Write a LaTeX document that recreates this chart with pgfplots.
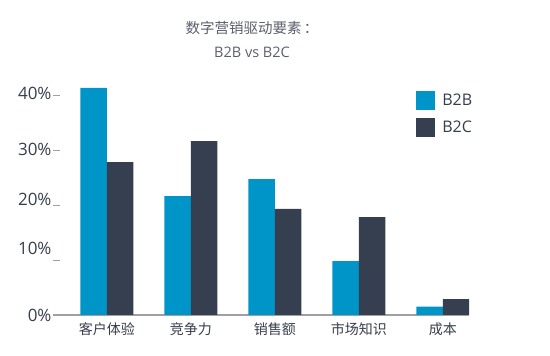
\documentclass[border=0pt]{standalone}
\usepackage{fontspec}
\setmainfont{Open Sans}
\newfontfamily\cjk{Noto Sans CJK SC}
\usepackage{pgfplots}
\pgfplotsset{compat=1.18}
\definecolor{btb}{RGB}{0,149,200}
\definecolor{btc}{RGB}{53,63,79}
\definecolor{txt}{RGB}{55,62,75}
\definecolor{ttl}{RGB}{90,95,108}
\definecolor{axg}{RGB}{160,160,160}
\begin{document}
\begin{tikzpicture}
\path[use as bounding box] (-53pt,-41pt) rectangle (497pt,315pt);
\begin{axis}[
  at={(0pt,0pt)}, anchor=south west,
  scale only axis, width=416pt, height=247.5pt,
  xmin=-0.64, xmax=4.31, ymin=0, ymax=45,
  ybar=0pt, bar width=0.315,
  separate axis lines,
  axis x line*=bottom, axis y line*=left,
  y axis line style={draw=none},
  x axis line style={draw=axg, line width=1.3pt},
  xtick={0,1,2,3,4},
  xticklabels={客户体验,竞争力,销售额,市场知识,成本},
  x tick label style={font=\cjk\fontsize{14}{16}\selectfont, text=txt, yshift=-4pt},
  major x tick style={draw=none},
  ytick={0,10,20,30,40},
  yticklabels={0\%,\raisebox{24pt}{10\%},\raisebox{12pt}{20\%},\raisebox{2pt}{30\%},\raisebox{3pt}{40\%}},
  y tick label style={font=\fontsize{17}{20}\selectfont, text=txt, xshift=2pt},
  /pgf/number format/assume math mode=true,
  tick align=inside, major tick length=7pt,
  major y tick style={draw=axg, line width=0.8pt},
  legend style={draw=none, fill=none, at={(0.873,0.905)}, anchor=north west,
    inner sep=0pt, row sep=8pt, font=\fontsize{16}{18}\selectfont, text=txt,
    nodes={inner sep=0pt}},
  legend cell align=left,
  legend image code/.code={\fill[#1] (0pt,-9.5pt) rectangle (19pt,9.5pt);},
  /tikz/every odd column/.append style={column sep=7pt},
]
\addplot[fill=btb, draw=none] coordinates {(0,41.3) (1,21.6) (2,24.7) (3,9.8) (4,1.5)};
\addplot[fill=btc, draw=none] coordinates {(0,27.8) (1,31.6) (2,19.3) (3,17.8) (4,2.9)};
\legend{B2B,B2C}
\end{axis}
\node[text=ttl, font=\cjk\fontsize{14.5}{17}\selectfont] at (199pt,287pt) {数字营销驱动要素\,：};
\node[text=ttl, font=\fontsize{14.5}{17}\selectfont] at (199pt,263pt) {B2B vs B2C};
\end{tikzpicture}
\end{document}
